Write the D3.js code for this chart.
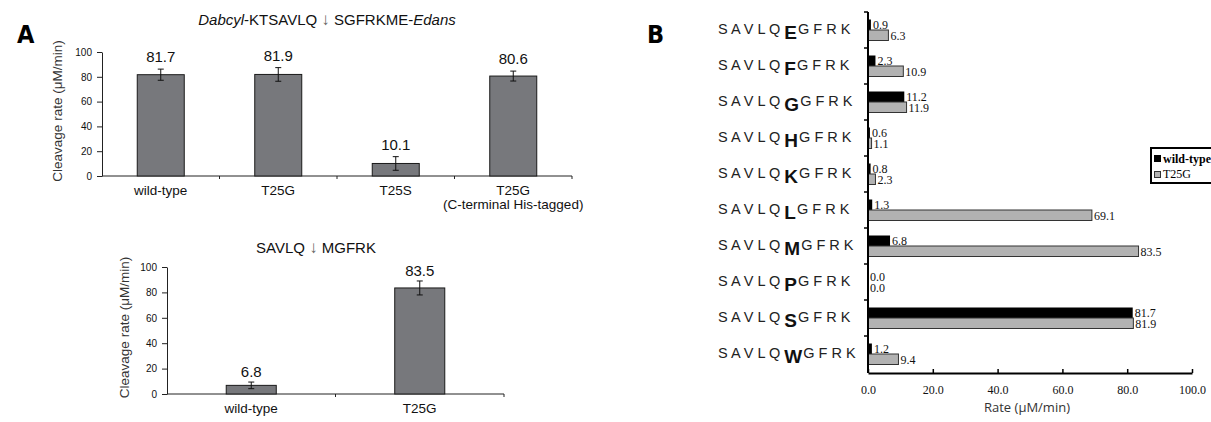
<!DOCTYPE html>
<html>
  <head>
    <script src="https://d3js.org/d3.v7.min.js"></script>
    <style>
      body { margin: 0; background: #fff; }
    </style>
  </head>
  <body>
    <script>

    // panel A, top chart (Dabcyl-KTSAVLQ/SGFRKME-Edans substrate)
    var enzymesTop = ["wild-type", "T25G", "T25S", "T25G-His"];
    var labelsTop = [["wild-type"], ["T25G"], ["T25S"], ["T25G", "(C-terminal His-tagged)"]];
    var ratesTop = [81.7, 81.9, 10.1, 80.6];
    var errTop = [4.5, 5.5, 5.5, 4];

    // panel A, bottom chart (SAVLQ/MGFRK substrate)
    var enzymesBottom = ["wild-type", "T25G"];
    var labelsBottom = [["wild-type"], ["T25G"]];
    var ratesBottom = [6.8, 83.5];
    var errBottom = [2.6, 5.5];

    var yTicksA = [0, 20, 40, 60, 80, 100];

    // panel B, P1' residue scan
    var p1Residues = ["E", "F", "G", "H", "K", "L", "M", "P", "S", "W"];
    var wildType = [0.9, 2.3, 11.2, 0.6, 0.8, 1.3, 6.8, 0.0, 81.7, 1.2];
    var t25g = [6.3, 10.9, 11.9, 1.1, 2.3, 69.1, 83.5, 0.0, 81.9, 9.4];
    var xTicksB = [0, 20, 40, 60, 80, 100];

    var w = 1211;
    var h = 422;
    var sans = "'Liberation Sans', Arial, sans-serif";
    var serif = "'Liberation Serif', 'Times New Roman', serif";

    var svg = d3.select("body")
      .append("svg")
      .attr("width", w)
      .attr("height", h)
      .style("font-family", sans);

    // panel letters
    svg.append("text").text("A")
      .attr("x", 17).attr("y", 43)
      .attr("font-family", "'Liberation Sans Narrow', 'DejaVu Sans Condensed', sans-serif")
      .attr("font-weight", "bold").attr("font-size", 25);
    svg.append("text").text("B")
      .attr("x", 647).attr("y", 43)
      .attr("font-family", "'Liberation Sans Narrow', 'DejaVu Sans Condensed', sans-serif")
      .attr("font-weight", "bold").attr("font-size", 25);

    // one bar chart of panel A
    function barChart(o) {
      var g = svg.append("g");
      var x = d3.scaleBand()
        .domain(o.cats)
        .range([o.x0, o.x1])
        .paddingInner(o.pad)
        .paddingOuter(o.pad / 2);
      var y = d3.scaleLinear()
        .domain([0, 100])
        .range([o.yBot, o.yTop]);

      // y axis
      var ya = g.append("g")
        .attr("transform", "translate(" + o.x0 + ",0)")
        .call(d3.axisLeft(y).tickValues(yTicksA).tickSizeInner(5).tickSizeOuter(0).tickPadding(5));
      ya.select(".domain").attr("stroke", "#222");
      ya.selectAll(".tick line").attr("stroke", "#222");
      ya.selectAll("text").attr("font-size", 10).attr("font-family", sans).attr("fill", "#111");

      // x axis line with ticks between categories
      g.append("line")
        .attr("x1", o.x0).attr("x2", o.x1)
        .attr("y1", o.yBot).attr("y2", o.yBot)
        .attr("stroke", "#222");
      g.selectAll(".xt")
        .data(d3.range(1, o.cats.length + 1))
        .enter().append("line")
        .attr("x1", function(k) { return o.x0 + k * x.step(); })
        .attr("x2", function(k) { return o.x0 + k * x.step(); })
        .attr("y1", o.yBot).attr("y2", o.yBot + 3)
        .attr("stroke", "#222");

      // bars
      g.selectAll(".bar")
        .data(o.vals)
        .enter().append("rect")
        .attr("x", function(d, i) { return x(o.cats[i]); })
        .attr("y", function(d) { return y(d); })
        .attr("width", x.bandwidth())
        .attr("height", function(d) { return y(0) - y(d); })
        .attr("fill", "#77787c")
        .attr("stroke", "#1a1a1a")
        .attr("stroke-width", 1);

      // error bars
      o.vals.forEach(function(d, i) {
        var cx = x(o.cats[i]) + x.bandwidth() / 2;
        var e = o.errs[i];
        g.append("line")
          .attr("x1", cx).attr("x2", cx)
          .attr("y1", y(d + e)).attr("y2", y(d - e))
          .attr("stroke", "#111");
        [d + e, d - e].forEach(function(v) {
          g.append("line")
            .attr("x1", cx - 3).attr("x2", cx + 3)
            .attr("y1", y(v)).attr("y2", y(v))
            .attr("stroke", "#111");
        });
        g.append("text")
          .text(d.toFixed(1))
          .attr("x", cx)
          .attr("y", y(d + e) - o.valGap)
          .attr("text-anchor", "middle")
          .attr("font-size", 15)
          .attr("fill", "#111");
      });

      // category labels
      o.labels.forEach(function(lines, i) {
        var cx = x(o.cats[i]) + x.bandwidth() / 2;
        lines.forEach(function(t, j) {
          g.append("text")
            .text(t)
            .attr("x", cx)
            .attr("y", o.yBot + o.labGap + j * 14)
            .attr("text-anchor", "middle")
            .attr("font-size", 13.5)
            .attr("fill", "#111");
        });
      });

      // y axis title
      g.append("text")
        .text("Cleavage rate (\u03bcM/min)")
        .attr("transform", "translate(" + o.yLabX + "," + ((o.yTop + o.yBot) / 2 - 3) + ") rotate(-90)")
        .attr("text-anchor", "middle")
        .attr("font-size", 13.5)
        .attr("fill", "#333");
    }

    barChart({
      cats: enzymesTop, labels: labelsTop, vals: ratesTop, errs: errTop,
      x0: 102, x1: 572, yTop: 52, yBot: 176, pad: 0.6,
      valGap: 7, labGap: 19, yLabX: 62
    });

    barChart({
      cats: enzymesBottom, labels: labelsBottom, vals: ratesBottom, errs: errBottom,
      x0: 167, x1: 504, yTop: 267, yBot: 394, pad: 0.703,
      valGap: 5, labGap: 19, yLabX: 129
    });

    // chart titles
    var t1 = svg.append("text")
      .attr("x", 327).attr("y", 25)
      .attr("text-anchor", "middle")
      .attr("font-size", 15)
      .attr("fill", "#111");
    t1.append("tspan").text("Dabcyl").attr("font-style", "italic");
    t1.append("tspan").text("-KTSAVLQ ");
    t1.append("tspan").text("\u2193").attr("fill", "#666").attr("font-size", 17);
    t1.append("tspan").text(" SGFRKME-");
    t1.append("tspan").text("Edans").attr("font-style", "italic");

    var t2 = svg.append("text")
      .attr("x", 316).attr("y", 253)
      .attr("text-anchor", "middle")
      .attr("font-size", 15)
      .attr("fill", "#111");
    t2.append("tspan").text("SAVLQ ");
    t2.append("tspan").text("\u2193").attr("fill", "#666").attr("font-size", 17);
    t2.append("tspan").text(" MGFRK");

    // panel B
    var xB = d3.scaleLinear().domain([0, 100]).range([868, 1192]);
    var yB = d3.scaleBand().domain(p1Residues).range([12, 372]);
    var barH = 10.5;
    var gB = svg.append("g");

    p1Residues.forEach(function(r, i) {
      var cy = yB(r) + yB.bandwidth() / 2;

      gB.append("rect")
        .attr("x", xB(0)).attr("y", cy - barH)
        .attr("width", xB(wildType[i]) - xB(0)).attr("height", barH)
        .attr("fill", "#000");
      if (t25g[i] > 0) {
        gB.append("rect")
          .attr("x", xB(0)).attr("y", cy)
          .attr("width", xB(t25g[i]) - xB(0)).attr("height", barH)
          .attr("fill", "#b2b2b2")
          .attr("stroke", "#333")
          .attr("stroke-width", 1);
      }

      gB.append("text")
        .text(wildType[i].toFixed(1))
        .attr("x", xB(wildType[i]) + 2).attr("y", cy - 1)
        .attr("font-family", serif).attr("font-size", 12).attr("fill", "#111");
      gB.append("text")
        .text(t25g[i].toFixed(1))
        .attr("x", xB(t25g[i]) + 2).attr("y", cy + 10)
        .attr("font-family", serif).attr("font-size", 12).attr("fill", "#111");

      // substrate sequence label with the P1' residue emphasised
      var lab = gB.append("text")
        .attr("x", 718).attr("y", cy + 4)
        .attr("font-size", 14.5)
        .attr("fill", "#222");
      lab.append("tspan").text("S A V L Q");
      lab.append("tspan").text(r)
        .attr("dx", 4).attr("dy", 5)
        .attr("font-weight", "bold").attr("font-size", 19).attr("fill", "#111");
      lab.append("tspan").text("G F R K").attr("dx", 1).attr("dy", -5);
    });

    // y axis of panel B with ticks between rows
    gB.append("line")
      .attr("x1", xB(0)).attr("x2", xB(0))
      .attr("y1", 12).attr("y2", 373)
      .attr("stroke", "#000").attr("stroke-width", 2);
    gB.selectAll(".yt")
      .data(d3.range(0, p1Residues.length))
      .enter().append("line")
      .attr("x1", xB(0) - 4).attr("x2", xB(0))
      .attr("y1", function(k) { return 12 + k * yB.step(); })
      .attr("y2", function(k) { return 12 + k * yB.step(); })
      .attr("stroke", "#000").attr("stroke-width", 1.5);

    // x axis of panel B
    var xa = gB.append("g")
      .attr("transform", "translate(0," + 373 + ")")
      .call(d3.axisBottom(xB).tickValues(xTicksB).tickSizeInner(-4).tickSizeOuter(0)
        .tickPadding(12).tickFormat(d3.format(".1f")));
    xa.select(".domain").attr("stroke", "#000").attr("stroke-width", 2);
    xa.selectAll(".tick line").attr("stroke", "#000").attr("stroke-width", 1.5);
    xa.selectAll("text").attr("font-family", serif).attr("font-size", 12).attr("fill", "#111");

    gB.append("text")
      .text("Rate (\u03bcM/min)")
      .attr("x", 1027).attr("y", 412)
      .attr("text-anchor", "middle")
      .attr("font-family", "'Open Sans', sans-serif")
      .attr("font-size", 13)
      .attr("fill", "#333");

    // legend
    var leg = gB.append("g");
    leg.append("rect")
      .attr("x", 1151).attr("y", 148)
      .attr("width", 62).attr("height", 35)
      .attr("fill", "#fff").attr("stroke", "#000").attr("stroke-width", 2);
    leg.append("rect")
      .attr("x", 1154).attr("y", 155).attr("width", 7).attr("height", 7)
      .attr("fill", "#000");
    leg.append("rect")
      .attr("x", 1154.5).attr("y", 171.5).attr("width", 6).attr("height", 6)
      .attr("fill", "#b2b2b2").attr("stroke", "#333");
    leg.append("text").text("wild-type")
      .attr("x", 1163).attr("y", 163)
      .attr("font-family", serif).attr("font-weight", "bold").attr("font-size", 12);
    leg.append("text").text("T25G")
      .attr("x", 1163).attr("y", 178)
      .attr("font-family", serif).attr("font-size", 12);

    </script>
  </body>
</html>
